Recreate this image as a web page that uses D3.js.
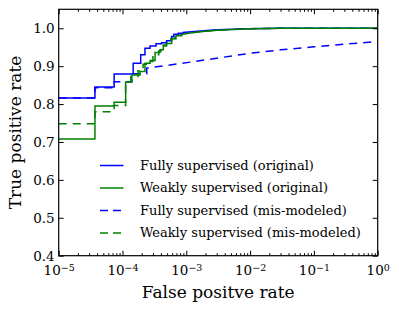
<!DOCTYPE html>
<html>
<head>
<meta charset="utf-8" />
<style>
  html, body { margin: 0; padding: 0; background: #fff; }
  svg { display: block; font-family: "DejaVu Serif", serif; }
  .axis path.domain { display: none; }
  .axis line { stroke: #000; stroke-width: 1; }
  .axis text { font-size: 13.5px; fill: #000; font-family: "DejaVu Serif", serif; }
  .frame { fill: none; stroke: #000; stroke-width: 1.2; }
  .roc { fill: none; stroke-width: 1.5; }
  .title { font-size: 17px; }
  .legend text { font-size: 13px; }
</style>
</head>
<body>
<div id="vis"></div>
<script src="https://d3js.org/d3.v7.min.js"></script>
<script>
(function() {
  // ** DATA ** (roc points as fpr / tpr pairs)

  var labels = ["Fully supervised (original)", "Weakly supervised (original)",
                "Fully supervised (mis-modeled)", "Weakly supervised (mis-modeled)"];
  var colors = ["#0000ff", "#008000", "#0000ff", "#008000"];
  var dashed = [false, false, true, true];

  var fprFullOrig = [1e-5, 3.7e-5, 3.7e-5, 7.4e-5, 7.4e-5, 1.47e-4, 1.47e-4, 1.93e-4, 1.93e-4, 2.25e-4, 2.25e-4,
    2.7e-4, 2.7e-4, 3.35e-4, 3.35e-4, 4.1e-4, 4.1e-4, 4.9e-4, 4.9e-4, 5.9e-4, 5.9e-4, 6.4e-4, 6.4e-4,
    7.5e-4, 7.5e-4, 8.9e-4, 8.9e-4, 1.5e-3, 3e-3, 1e-2, 3e-2, 1e-1, 1];
  var tprFullOrig = [0.816, 0.816, 0.845, 0.845, 0.879, 0.879, 0.908, 0.908, 0.930, 0.930, 0.947,
    0.947, 0.953, 0.953, 0.959, 0.959, 0.962, 0.962, 0.967, 0.967, 0.978, 0.978, 0.984,
    0.984, 0.987, 0.987, 0.989, 0.992, 0.996, 0.999, 1.0, 1.0, 1.0];

  var fprWeakOrig = [1e-5, 3.7e-5, 3.7e-5, 7.4e-5, 7.4e-5, 1.12e-4, 1.12e-4, 1.4e-4, 1.4e-4, 1.88e-4, 1.88e-4,
    2.25e-4, 2.25e-4, 2.7e-4, 2.7e-4, 3.24e-4, 3.24e-4, 3.87e-4, 3.87e-4, 4.36e-4, 4.36e-4, 4.9e-4, 4.9e-4,
    5.9e-4, 5.9e-4, 6.9e-4, 6.9e-4, 8.5e-4, 8.5e-4, 1.5e-3, 3e-3, 1e-2, 3e-2, 1e-1, 1];
  var tprWeakOrig = [0.708, 0.708, 0.795, 0.795, 0.805, 0.805, 0.858, 0.858, 0.877, 0.877, 0.886,
    0.886, 0.908, 0.908, 0.915, 0.915, 0.936, 0.936, 0.943, 0.943, 0.956, 0.956, 0.960,
    0.960, 0.972, 0.972, 0.980, 0.980, 0.984, 0.990, 0.995, 0.999, 1.0, 1.0, 1.0];

  var fprFullMis = [1e-5, 3.7e-5, 3.7e-5, 7.4e-5, 7.4e-5, 1.4e-4, 1.4e-4, 2.4e-4, 2.4e-4, 4.5e-4, 1.2e-3,
    3e-3, 1e-2, 3e-2, 1e-1, 3e-1, 1];
  var tprFullMis = [0.816, 0.816, 0.843, 0.843, 0.859, 0.859, 0.880, 0.880, 0.895, 0.901, 0.911,
    0.921, 0.934, 0.943, 0.951, 0.958, 0.965];

  var fprWeakMis = [1e-5, 3.7e-5, 3.7e-5, 7.4e-5, 7.4e-5, 1.12e-4, 1.12e-4, 1.35e-4, 1.35e-4, 1.75e-4, 1.75e-4,
    2.1e-4, 2.1e-4, 2.6e-4, 2.6e-4, 3.0e-4, 3.0e-4, 3.7e-4, 3.7e-4, 4.2e-4, 4.2e-4, 4.9e-4, 4.9e-4,
    5.7e-4, 5.7e-4, 6.7e-4, 6.7e-4, 8e-4, 8e-4, 1.5e-3, 3e-3, 1e-2, 3e-2, 1e-1, 1];
  var tprWeakMis = [0.748, 0.748, 0.780, 0.780, 0.796, 0.796, 0.858, 0.858, 0.873, 0.873, 0.888,
    0.888, 0.905, 0.905, 0.912, 0.912, 0.930, 0.930, 0.940, 0.940, 0.953, 0.953, 0.962,
    0.962, 0.973, 0.973, 0.980, 0.980, 0.985, 0.990, 0.995, 0.999, 1.0, 1.0, 1.0];

  var xMajor = [1e-5, 1e-4, 1e-3, 1e-2, 1e-1, 1];
  var yTicks = [0.4, 0.5, 0.6, 0.7, 0.8, 0.9, 1.0];

  var series = [
    d3.zip(fprFullOrig, tprFullOrig),
    d3.zip(fprWeakOrig, tprWeakOrig),
    d3.zip(fprFullMis, tprFullMis),
    d3.zip(fprWeakMis, tprWeakMis)
  ];

  // ** SETUP **
  var W = 399, H = 311;
  var L = 58.7, R = 377.7, T = 9.3, B = 255.7;

  var svg = d3.select("#vis").append("svg").attr("width", W).attr("height", H);

  var x = d3.scaleLog().domain([1e-5, 1]).range([L, R]);
  var y = d3.scaleLinear().domain([0.4, 1.05]).range([B, T]);

  // minor ticks 2..9 in every decade
  var xMinor = [];
  xMajor.slice(0, -1).forEach(function(d) {
    d3.range(2, 10).forEach(function(k) { xMinor.push(d * k); });
  });

  svg.append("defs").append("clipPath").attr("id", "clip")
    .append("rect").attr("x", L).attr("y", T).attr("width", R - L).attr("height", B - T);

  // ** LINES **
  var line = d3.line()
    .x(function(d) { return x(d[0]); })
    .y(function(d) { return y(d[1]); });

  // draw order: dashed first, solid on top
  var order = [2, 3, 0, 1];
  svg.append("g").attr("clip-path", "url(#clip)")
    .selectAll("path").data(order).enter().append("path")
      .attr("class", "roc")
      .attr("stroke", function(i) { return colors[i]; })
      .attr("stroke-dasharray", function(i) { return dashed[i] ? "8,6" : null; })
      .attr("d", function(i) { return line(series[i]); });

  // ** AXES **
  function supLabel(sel) {
    sel.each(function(d) {
      var t = d3.select(this).text(null);
      t.append("tspan").text("10");
      var e = Math.round(Math.log10(d));
      t.append("tspan").attr("dy", "-0.45em").attr("font-size", "9.5px")
        .text(e < 0 ? "\u2212" + (-e) : String(e));
    });
  }

  svg.append("g").attr("class", "axis").attr("transform", "translate(0," + B + ")")
    .call(d3.axisBottom(x).tickValues(xMajor).tickSizeInner(-5).tickSizeOuter(0).tickPadding(10))
    .selectAll("text").call(supLabel);
  svg.append("g").attr("class", "axis").attr("transform", "translate(0," + B + ")")
    .call(d3.axisBottom(x).tickValues(xMinor).tickSize(-2.5).tickFormat(""));
  svg.append("g").attr("class", "axis").attr("transform", "translate(0," + T + ")")
    .call(d3.axisTop(x).tickValues(xMajor).tickSize(-5).tickFormat(""));
  svg.append("g").attr("class", "axis").attr("transform", "translate(0," + T + ")")
    .call(d3.axisTop(x).tickValues(xMinor).tickSize(-2.5).tickFormat(""));

  svg.append("g").attr("class", "axis").attr("transform", "translate(" + L + ",0)")
    .call(d3.axisLeft(y).tickValues(yTicks).tickSizeInner(-5).tickSizeOuter(0).tickPadding(4)
      .tickFormat(d3.format(".1f")));
  svg.append("g").attr("class", "axis").attr("transform", "translate(" + R + ",0)")
    .call(d3.axisRight(y).tickValues(yTicks).tickSize(-5).tickFormat(""));

  svg.append("rect").attr("class", "frame")
    .attr("x", L).attr("y", T).attr("width", R - L).attr("height", B - T);

  // titles
  svg.append("text").attr("class", "title")
    .attr("x", (L + R) / 2).attr("y", 298).attr("text-anchor", "middle")
    .text("False positve rate");
  svg.append("text").attr("class", "title")
    .attr("transform", "translate(21," + (T + B) / 2 + ") rotate(-90)")
    .attr("text-anchor", "middle")
    .text("True positive rate");

  // ** LEGEND **
  var legend = svg.append("g").attr("class", "legend");
  var rowY = d3.scalePoint().domain(d3.range(labels.length)).range([165.5, 233]);
  var rows = legend.selectAll("g").data(labels).enter().append("g")
    .attr("transform", function(d, i) { return "translate(0," + rowY(i) + ")"; });
  rows.append("line")
    .attr("x1", 100).attr("x2", 123.5).attr("y1", 0).attr("y2", 0)
    .attr("stroke-width", 1.5)
    .attr("stroke", function(d, i) { return colors[i]; })
    .attr("stroke-dasharray", function(d, i) { return dashed[i] ? "8,5" : null; });
  rows.append("text")
    .attr("x", 140).attr("y", 0).attr("dy", "0.32em")
    .text(function(d) { return d; });
})();
</script>
</body>
</html>
